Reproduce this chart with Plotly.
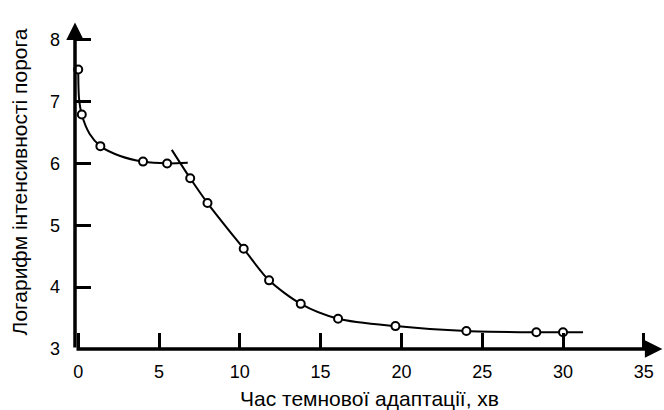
import plotly.graph_objects as go

# measured points
pts_x = [0, 0.22, 1.37, 4.01, 5.50, 6.93, 8.0, 10.24, 11.81, 13.77, 16.08, 19.63, 24.02, 28.35, 30.0]
pts_y = [7.52, 6.79, 6.28, 6.03, 6.00, 5.76, 5.36, 4.62, 4.11, 3.73, 3.49, 3.37, 3.29, 3.27, 3.27]

# curve branch 1 (cone segment)
c1_x = [0, 0.05, 0.22, 0.7, 1.37, 2.6, 4.01, 5.50, 6.78]
c1_y = [7.52, 7.05, 6.79, 6.48, 6.28, 6.12, 6.03, 6.00, 6.01]
# curve branch 2 (rod segment)
c2_x = [5.79, 6.93, 8.0, 10.24, 11.81, 13.77, 16.08, 19.63, 24.02, 28.35, 30.0, 31.24]
c2_y = [6.22, 5.76, 5.36, 4.62, 4.11, 3.73, 3.49, 3.37, 3.29, 3.27, 3.27, 3.27]

x_ticks = [0, 5, 10, 15, 20, 25, 30, 35]
y_ticks = [3, 4, 5, 6, 7, 8]

x_title = "Час темнової адаптації, хв"
y_title = "Логарифм інтенсивності порога"

FONT = "Liberation Sans, Arial, sans-serif"

fig = go.Figure()
fig.add_trace(go.Scatter(x=c1_x, y=c1_y, mode="lines",
                         line=dict(color="black", width=2, shape="spline", smoothing=0.8),
                         showlegend=False, hoverinfo="skip"))
fig.add_trace(go.Scatter(x=c2_x, y=c2_y, mode="lines",
                         line=dict(color="black", width=2, shape="spline", smoothing=0.8),
                         showlegend=False, hoverinfo="skip"))
fig.add_trace(go.Scatter(x=pts_x, y=pts_y, mode="markers",
                         marker=dict(symbol="circle", size=8, color="white",
                                     line=dict(color="black", width=2)),
                         showlegend=False, cliponaxis=False))

XMIN, XMAX = -0.2, 36.25
YMIN, YMAX = 3, 8.4

# axis arrows
fig.add_annotation(x=XMIN, y=8.28, ax=XMIN, ay=YMIN, xref="x", yref="y", axref="x", ayref="y",
                   text="", showarrow=True, arrowhead=2, arrowsize=1.0, arrowwidth=3.5, arrowcolor="black")
fig.add_annotation(x=36.15, y=YMIN, ax=XMIN, ay=YMIN, xref="x", yref="y", axref="x", ayref="y",
                   text="", showarrow=True, arrowhead=2, arrowsize=1.0, arrowwidth=3.5, arrowcolor="black")

# x-axis title
fig.add_annotation(x=0.5, y=0, xref="paper", yref="paper", xanchor="center", yanchor="top",
                   yshift=-36, text=x_title, showarrow=False, font=dict(size=21))

fig.update_layout(
    width=664, height=410,
    margin=dict(l=75, r=0, t=15, b=61),
    plot_bgcolor="white", paper_bgcolor="white",
    font=dict(family=FONT, size=18, color="black"),
    xaxis=dict(range=[XMIN, XMAX], tickvals=x_ticks, ticktext=[str(v) for v in x_ticks],
               ticks="inside", ticklen=16, tickwidth=2.5, tickcolor="black",
               showgrid=False, zeroline=False, showline=False,
               ticklabelstandoff=10, automargin=False),
    yaxis=dict(range=[YMIN, YMAX], tickvals=y_ticks, ticktext=[str(v) for v in y_ticks],
               ticks="inside", ticklen=16, tickwidth=2.5, tickcolor="black",
               showgrid=False, zeroline=False, showline=False,
               ticklabelstandoff=14, automargin=False,
               title=dict(text=y_title, font=dict(size=21), standoff=16)),
)

fig.write_html("out.html")
